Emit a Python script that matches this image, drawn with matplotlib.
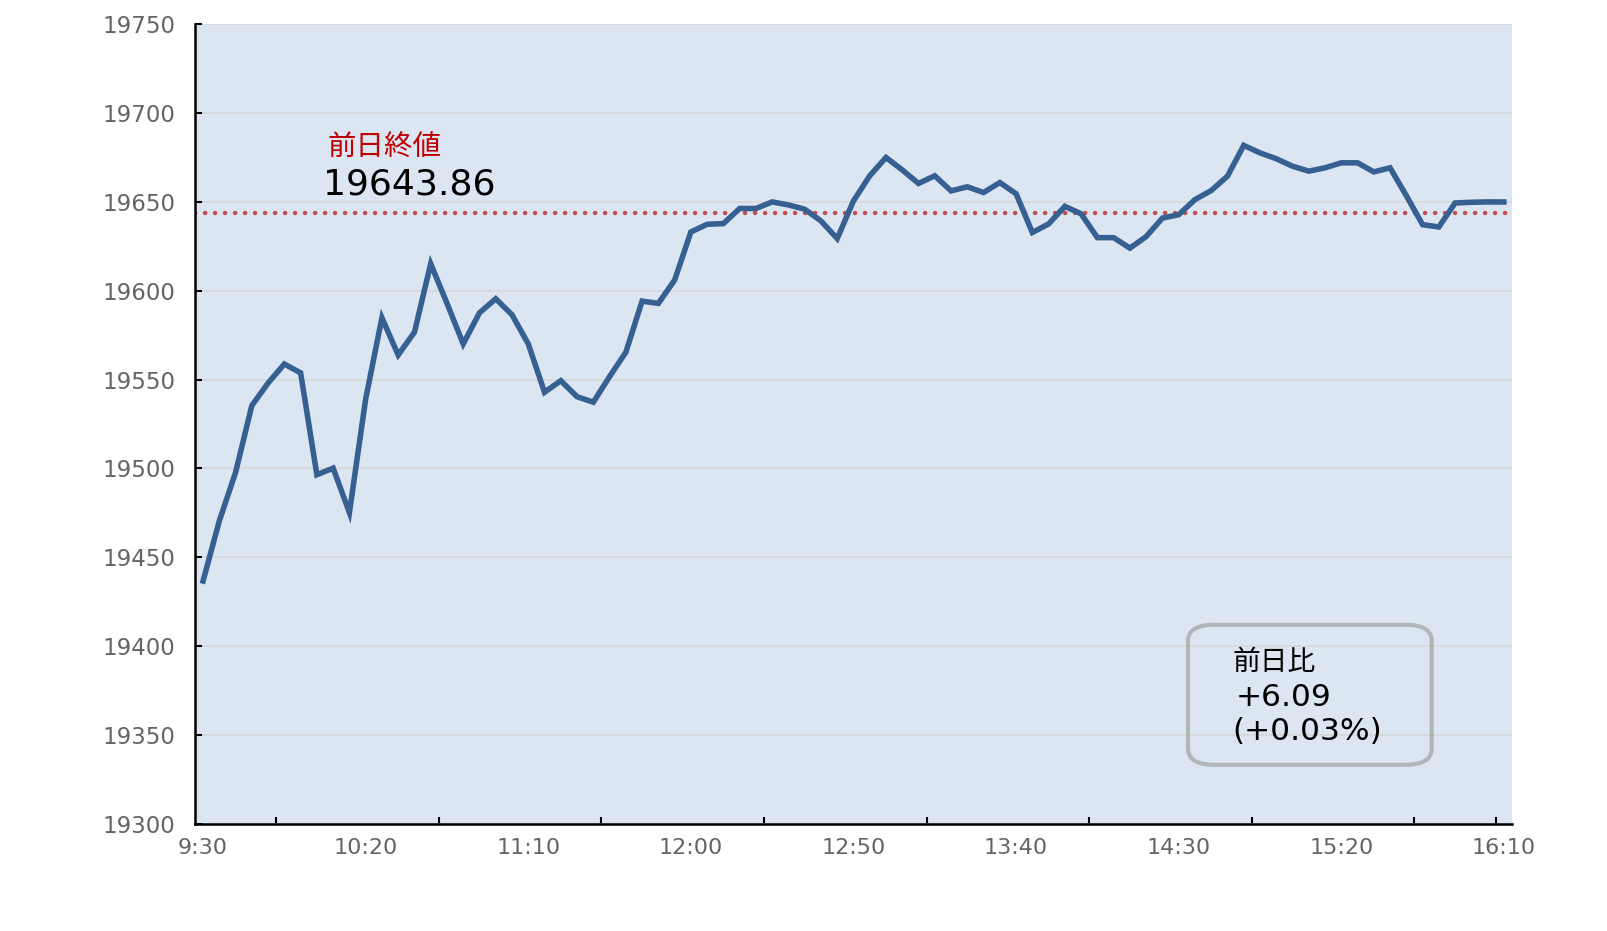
import numpy as np
import matplotlib
matplotlib.use('Agg')
import matplotlib.pyplot as plt
from matplotlib.patches import FancyBboxPatch

plt.rcParams['font.family'] = ['DejaVu Sans', 'Noto Sans CJK JP']

# 5分ごとの値 (9:30 - 16:10)
values = [19436.7, 19470.5, 19497.8, 19535.4, 19548.1, 19558.8, 19553.8, 19496.5, 19500.2, 19475.2,
          19539.1, 19584.8, 19563.9, 19576.7, 19615.2, 19593.0, 19570.1, 19587.6, 19595.5, 19586.5,
          19570.1, 19542.9, 19549.4, 19540.4, 19537.3, 19551.7, 19565.4, 19594.2, 19592.9, 19606.0,
          19633.1, 19637.4, 19637.8, 19646.3, 19646.3, 19650.0, 19648.3, 19645.9, 19639.3, 19629.4,
          19650.6, 19664.7, 19675.0, 19668.0, 19660.4, 19664.7, 19656.2, 19658.5, 19655.3, 19660.9,
          19654.6, 19632.8, 19637.6, 19647.5, 19643.3, 19629.9, 19629.9, 19624.0, 19630.5, 19640.9,
          19642.8, 19651.3, 19656.4, 19664.5, 19681.8, 19677.6, 19674.3, 19670.1, 19667.3, 19669.2,
          19672.0, 19672.0, 19666.9, 19669.2, 19653.5, 19637.2, 19635.9, 19649.4, 19649.8, 19650.0,
          19649.95]
xlabels = ['9:30', '10:20', '11:10', '12:00', '12:50', '13:40', '14:30', '15:20', '16:10']
prev_close = 19643.86
change = '+6.09'
change_pct = '(+0.03%)'

x = np.arange(len(values))

fig = plt.figure(figsize=(16.07, 9.31), dpi=100)
ax = fig.add_axes([0.1213, 0.115, 0.8196, 0.859])
ax.set_facecolor('#dce6f2')

ax.plot(x, values, color='#366092', lw=4, solid_joinstyle='miter', zorder=3)
ax.axhline(prev_close, color='#c0504d', lw=3.2, ls=(0, (0.05, 2.2)),
           dash_capstyle='round', zorder=2)

ax.set_xlim(-0.5, len(values) - 0.5)
ax.set_ylim(19300, 19750)
ax.set_yticks(np.arange(19300, 19751, 50))
ax.set_xticks(np.arange(0, len(values), 10))
ax.set_xticklabels(xlabels)
ax.set_xticks(list(np.arange(4.5, len(values) - 1, 10)) + [len(values) - 1.5], minor=True)

ax.yaxis.grid(True, color='#d6d6d6', lw=1.1, zorder=1)
ax.set_axisbelow(True)
for s in ['top', 'right']:
    ax.spines[s].set_visible(False)
for s in ['left', 'bottom']:
    ax.spines[s].set_linewidth(1.8)
ax.tick_params(axis='y', direction='in', length=5, width=1.5, labelsize=16.5,
               labelcolor='#646464', pad=14)
ax.tick_params(axis='x', which='major', length=0, labelsize=16, labelcolor='#646464', pad=10)
ax.tick_params(axis='x', which='minor', direction='in', length=5, width=1.5)

ax.text(0.101, 0.846, '前日終値', transform=ax.transAxes, color='#c00000',
        fontsize=20.5, va='center', ha='left')
ax.text(0.0975, 0.799, f'{prev_close:.2f}', transform=ax.transAxes, color='black',
        fontsize=26, va='center', ha='left')

box = FancyBboxPatch((0.754, 0.074), 0.185, 0.175, transform=ax.transAxes,
                     boxstyle='round,pad=0,rounding_size=0.02', fc='none',
                     ec='#a6a6a6', lw=3, alpha=0.75, zorder=4)
ax.add_patch(box)
ax.text(0.788, 0.2025, '前日比', transform=ax.transAxes, fontsize=20, va='center', ha='left', zorder=5)
ax.text(0.790, 0.1575, change, transform=ax.transAxes, fontsize=22.5, va='center', ha='left', zorder=5)
ax.text(0.788, 0.115, change_pct, transform=ax.transAxes, fontsize=22.5, va='center', ha='left', zorder=5)

fig.savefig('out.png', dpi=100)
